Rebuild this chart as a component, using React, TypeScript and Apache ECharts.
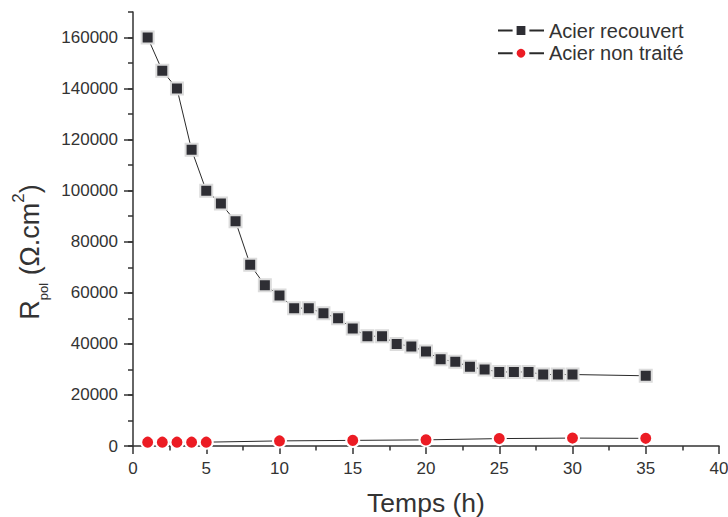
import React, { useEffect, useRef } from "react";
import * as echarts from "echarts";

const hoursCoated = [1, 2, 3, 4, 5, 6, 7, 8, 9, 10, 11, 12, 13, 14, 15, 16, 17, 18, 19, 20, 21, 22, 23, 24, 25, 26, 27, 28, 29, 30, 35];
const rpolCoated = [160000, 147000, 140000, 116000, 100000, 95000, 88000, 71000, 63000, 59000, 54000, 54000, 52000, 50000, 46000, 43000, 43000, 40000, 39000, 37000, 34000, 33000, 31000, 30000, 29000, 29000, 29000, 28000, 28000, 28000, 27500];
const hoursUntreated = [1, 2, 3, 4, 5, 10, 15, 20, 25, 30, 35];
const rpolUntreated = [1500, 1500, 1500, 1500, 1500, 2000, 2200, 2400, 2900, 3100, 3000];
const yMajorTicks = [0, 20000, 40000, 60000, 80000, 100000, 120000, 140000, 160000];
const seriesNames = ["Acier recouvert", "Acier non traité"];

const FONT = "'Liberation Sans', Arial, sans-serif";
const INK = "#333333";

export default function App() {
  const ref = useRef<HTMLDivElement>(null);
  useEffect(() => {
    if (!ref.current) return;
    const chart = echarts.init(ref.current, undefined, { renderer: "svg" });
    const axisLine = { show: true, lineStyle: { color: INK, width: 1.5 } };
    chart.setOption({
      animation: false,
      backgroundColor: "#ffffff",
      textStyle: { fontFamily: FONT },
      grid: { left: 133, right: 9, top: 12, bottom: 71, outerBoundsMode: "none" },
      xAxis: {
        type: "value",
        min: 0,
        max: 40,
        interval: 5,
        axisLine,
        axisTick: { show: true, length: 8, lineStyle: { color: INK, width: 1.5 } },
        minorTick: { show: true, splitNumber: 2, length: 4.5, lineStyle: { color: INK, width: 1.5 } },
        splitLine: { show: false },
        axisLabel: { fontSize: 17, color: INK, fontFamily: FONT, margin: 14, formatter: (v: number) => String(v) },
      },
      yAxis: [
        {
          type: "value",
          position: "left",
          min: 0,
          max: 170000,
          interval: 10000,
          axisLine,
          axisTick: { show: true, length: 5, lineStyle: { color: INK, width: 1.5 } },
          axisLabel: { show: false },
          splitLine: { show: false },
        },
        {
          type: "value",
          position: "left",
          min: 0,
          max: 170000,
          interval: 10000,
          axisLine: { show: false },
          axisTick: { show: true, length: 9, customValues: yMajorTicks, lineStyle: { color: INK, width: 1.5 } },
          axisLabel: {
            show: true,
            customValues: yMajorTicks,
            fontSize: 17,
            color: INK,
            fontFamily: FONT,
            margin: 15,
            formatter: (v: number) => String(v),
          },
          splitLine: { show: false },
        },
      ],
      legend: {
        orient: "vertical",
        left: 497,
        top: 20.5,
        padding: 0,
        itemGap: 2.7,
        itemWidth: 46,
        itemHeight: 16,
        data: seriesNames,
        itemStyle: { borderColor: "#ffffff", borderWidth: 4 },
        textStyle: { fontSize: 20, lineHeight: 19, color: INK, fontFamily: FONT },
      },
      series: [
        {
          name: seriesNames[0],
          type: "line",
          yAxisIndex: 0,
          data: hoursCoated.map((h, i) => [h, rpolCoated[i]]),
          symbol: "rect",
          symbolSize: 12,
          itemStyle: { color: "#2e2e34", borderColor: "#dcdcdc", borderWidth: 2 },
          lineStyle: { color: "#2a2a2a", width: 1 },
        },
        {
          name: seriesNames[1],
          type: "line",
          yAxisIndex: 0,
          data: hoursUntreated.map((h, i) => [h, rpolUntreated[i]]),
          symbol: "circle",
          symbolSize: 13,
          itemStyle: { color: "#ec1c24", borderColor: "#ffffff", borderWidth: 2 },
          lineStyle: { color: "#2a2a2a", width: 1 },
        },
      ],
      graphic: [
        {
          type: "text",
          x: 426,
          y: 503,
          style: {
            text: "Temps (h)",
            fontSize: 26.5,
            fontFamily: FONT,
            fill: INK,
            align: "center",
            verticalAlign: "middle",
          },
        },
        {
          type: "text",
          x: 29.6,
          y: 252,
          rotation: Math.PI / 2,
          style: {
            text: "{r|R}{s|pol}{r| (Ω.cm}{p|2}{r|)}",
            align: "center",
            verticalAlign: "middle",
            fill: INK,
            fontFamily: FONT,
            rich: {
              r: { fontSize: 27, fontFamily: FONT, lineHeight: 40, verticalAlign: "middle", fill: INK },
              s: { fontSize: 13, fontFamily: FONT, lineHeight: 13, verticalAlign: "bottom", fill: INK },
              p: { fontSize: 17, fontFamily: FONT, lineHeight: 17, verticalAlign: "top", fill: INK },
            },
          },
        },
      ],
    });
    return () => chart.dispose();
  }, []);
  return (
    <div
      ref={ref}
      style={{ position: "fixed", left: 0, top: 0, width: 728, height: 517, background: "#fff" }}
    />
  );
}
